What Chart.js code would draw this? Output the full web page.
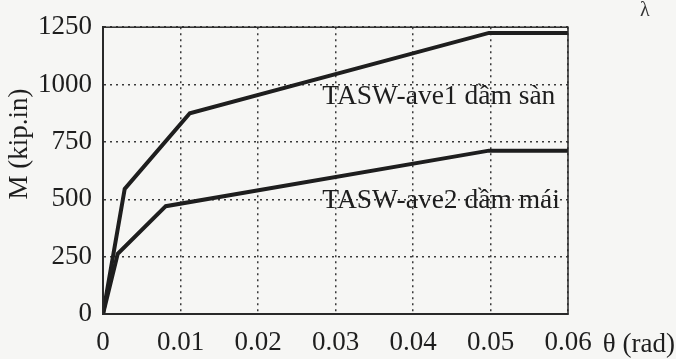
<!DOCTYPE html>
<html>
<head>
<meta charset="utf-8">
<script src="https://cdn.jsdelivr.net/npm/chart.js@4"></script>
<style>
  html, body { margin: 0; padding: 0; background: #f6f6f4; }
</style>
</head>
<body>
<canvas id="mChart" width="676" height="359"></canvas>
<script>
// rotation (rad) / moment (kip.in)
const thetaAve1 = [0, 0.0028, 0.0112, 0.0498, 0.06];
const momentAve1 = [0, 545, 875, 1225, 1225];
const thetaAve2 = [0, 0.0019, 0.0081, 0.0498, 0.06];
const momentAve2 = [0, 262, 470, 712, 712];

const xTickLabels = ["0", "0.01", "0.02", "0.03", "0.04", "0.05", "0.06"];
const yTickLabels = ["0", "250", "500", "750", "1000", "1250"];

const curveLabels = ["TASW-ave1 dầm sàn", "TASW-ave2 dầm mái"];
const labelTheta = [0.0283, 0.0283];
const labelMoment = [915, 460];

const ink = "#1e1e1e";
const serif = '"Liberation Serif", "Times New Roman", serif';

function toPoints(xs, ys) {
  return xs.map((v, i) => ({ x: v, y: ys[i] }));
}

// frame, curve labels and axis titles
const annotate = {
  id: "annotate",
  afterDraw(chart) {
    const { ctx, chartArea, scales } = chart;
    const x = scales.x, y = scales.y;
    ctx.save();
    ctx.strokeStyle = "#2a2a2a";
    ctx.lineWidth = 1.5;
    ctx.strokeRect(chartArea.left, chartArea.top,
      chartArea.right - chartArea.left, chartArea.bottom - chartArea.top);

    ctx.fillStyle = ink;
    ctx.font = "27.5px " + serif;
    ctx.textAlign = "left";
    ctx.textBaseline = "alphabetic";
    curveLabels.forEach((t, i) => {
      ctx.fillText(t, x.getPixelForValue(labelTheta[i]), y.getPixelForValue(labelMoment[i]));
    });

    ctx.font = "27px " + serif;
    ctx.textAlign = "right";
    ctx.fillText("θ (rad)", 675, chartArea.bottom + 38);

    ctx.translate(20, 144);
    ctx.rotate(-Math.PI / 2);
    ctx.textAlign = "center";
    ctx.textBaseline = "middle";
    ctx.fillText("M (kip.in)", 0, 0);

    ctx.restore();
    ctx.save();
    ctx.fillStyle = "#333";
    ctx.font = "20px " + serif;
    ctx.fillText("λ", 640, 16);
    ctx.restore();
  }
};

const ctx = document.getElementById("mChart").getContext("2d");
const chart = new Chart(ctx, {
  type: "line",
  data: {
    datasets: [
      {
        label: curveLabels[0],
        data: toPoints(thetaAve1, momentAve1),
        borderColor: ink,
        borderWidth: 4,
        pointRadius: 0,
        tension: 0,
      },
      {
        label: curveLabels[1],
        data: toPoints(thetaAve2, momentAve2),
        borderColor: ink,
        borderWidth: 4,
        pointRadius: 0,
        tension: 0,
      },
    ],
  },
  options: {
    responsive: false,
    animation: false,
    layout: { padding: { top: 19, right: 108, left: 0, bottom: 0 } },
    plugins: {
      legend: { display: false },
      tooltip: { enabled: false },
    },
    scales: {
      x: {
        type: "linear",
        min: 0,
        max: 0.06,
        afterFit: (s) => { s.height = 45; },
        ticks: {
          stepSize: 0.01,
          padding: 13,
          color: ink,
          font: { family: serif, size: 27 },
          maxRotation: 0,
          callback: (v, i) => xTickLabels[i],
        },
        grid: { color: "#3a3a3a", lineWidth: 1.5, drawTicks: false },
        border: { color: "#2a2a2a", width: 2, dash: [2, 4] },
      },
      y: {
        min: 0,
        max: 1250,
        afterFit: (s) => { s.width = 103; },
        ticks: {
          stepSize: 250,
          padding: 11,
          color: ink,
          font: { family: serif, size: 27 },
          callback: (v, i) => yTickLabels[i],
        },
        grid: { color: "#3a3a3a", lineWidth: 1.5, drawTicks: false },
        border: { color: "#2a2a2a", width: 2, dash: [2, 4] },
      },
    },
  },
  plugins: [annotate],
});
</script>
</body>
</html>
